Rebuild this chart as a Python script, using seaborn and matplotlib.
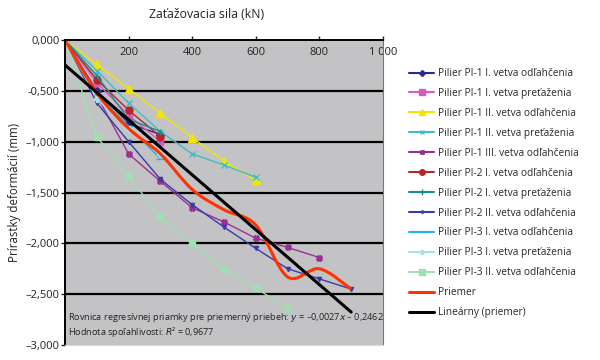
import numpy as np
import pandas as pd
import matplotlib
matplotlib.use("Agg")
import matplotlib.pyplot as plt
import seaborn as sns
from matplotlib.path import Path
from matplotlib.patches import PathPatch
from matplotlib.lines import Line2D

sns.set_theme(style="white")
plt.rcParams['font.family'] = ['Open Sans', 'DejaVu Sans']

# ---- data ----
load = [0, 100, 200, 300, 400, 500, 600, 700, 800, 900]

names = [
    "Pilier PI-1 I. vetva odľahčenia",
    "Pilier PI-1 I. vetva preťaženia",
    "Pilier PI-1 II. vetva odľahčenia",
    "Pilier PI-1 II. vetva preťaženia",
    "Pilier PI-1 III. vetva odľahčenia",
    "Pilier PI-2 I. vetva odľahčenia",
    "Pilier PI-2 I. vetva preťaženia",
    "Pilier PI-2 II. vetva odľahčenia",
    "Pilier PI-3 I. vetva odľahčenia",
    "Pilier PI-3 I. vetva preťaženia",
    "Pilier PI-3 II. vetva odľahčenia",
]

pi1_i_odl = [0, -0.50, -0.82, -0.93]
pi1_i_pre = [0, -0.42, -0.74, -1.00]
pi1_ii_odl = [0, -0.24, -0.48, -0.72, -0.96, -1.19, -1.38]
pi1_ii_pre = [0, -0.30, -0.62, -0.90, -1.12, -1.23, -1.35]
pi1_iii_odl = [0, -0.55, -1.12, -1.39, -1.65, -1.79, -1.95, -2.04, -2.14]
pi2_i_odl = [0, -0.39, -0.69, -0.95]
pi2_i_pre = [0, -0.35, -0.78, -0.90]
pi2_ii_odl = [0, -0.62, -1.00, -1.37, -1.62, -1.84, -2.05, -2.25, -2.35, -2.45]
pi3_i_odl = [0, -0.52, -0.85, -1.17]
pi3_i_pre = [0, -0.58, -0.88, -1.12]
pi3_ii_odl = [0, -0.95, -1.34, -1.74, -2.00, -2.25, -2.44, -2.64]

series = [pi1_i_odl, pi1_i_pre, pi1_ii_odl, pi1_ii_pre, pi1_iii_odl,
          pi2_i_odl, pi2_i_pre, pi2_ii_odl, pi3_i_odl, pi3_i_pre, pi3_ii_odl]

priemer = [0, -0.52, -0.87, -1.12, -1.47, -1.67, -1.82, -2.33, -2.25, -2.45]

slope = -0.0027
intercept = -0.2462
r2 = 0.9677

x_ticks = [200, 400, 600, 800, 1000]
x_tick_labels = ["200", "400", "600", "800", "1 000"]
y_ticks = [0, -0.5, -1.0, -1.5, -2.0, -2.5, -3.0]
y_tick_labels = ["0,000", "-0,500", "–1,000", "–1,500", "–2,000", "–2,500", "–3,000"]

# ---- styles ----
colors = ["#2a2a8c", "#d45cb8", "#f2e600", "#3cc0c4", "#9a3192",
          "#b3262a", "#1f8a8e", "#3a3aa8", "#1eb4e6", "#a6e2e2", "#9fe0b0"]
markers = ["D", "s", "^", "x", "X", "o", "+", "v", "_", "P", "s"]
msizes = [4, 5, 6, 4, 4, 5, 5, 3, 6, 4, 5]

fig = plt.figure(figsize=(6, 3.6), dpi=100)
ax = fig.add_axes([65/600, 1-345/360, (383-65)/600, (345-40)/360])
ax.set_facecolor("#c3c3c5")

for yv in [-0.5, -1.0, -1.5, -2.0, -2.5]:
    ax.axhline(yv, color="black", lw=1.6, zorder=1)

handles = []
for name, vals, c, m, ms in zip(names, series, colors, markers, msizes):
    df = pd.DataFrame({"x": load[:len(vals)], "y": vals})
    sns.lineplot(data=df, x="x", y="y", ax=ax, color=c, lw=1.0, marker=m,
                 markersize=ms, markeredgecolor=c, markeredgewidth=1.0,
                 sort=False, zorder=3, legend=False)
    handles.append(Line2D([], [], color=c, lw=1.5, marker=m, markersize=ms - 1,
                          markeredgecolor=c, label=name))

# smoothed average curve (Catmull-Rom -> cubic Bezier in data coords)
P = np.column_stack([load, priemer]).astype(float)
verts = [P[0]]
codes = [Path.MOVETO]
n = len(P)
for i in range(n - 1):
    p0 = P[i - 1] if i > 0 else P[i]
    p1 = P[i]
    p2 = P[i + 1]
    p3 = P[i + 2] if i + 2 < n else P[i + 1]
    c1 = p1 + (p2 - p0) / 6.0
    c2 = p2 - (p3 - p1) / 6.0
    verts += [c1, c2, p2]
    codes += [Path.CURVE4] * 3
ax.add_patch(PathPatch(Path(verts, codes), facecolor="none",
                       edgecolor="#ff3300", lw=2.2, zorder=4))
handles.append(Line2D([], [], color="#ff3300", lw=2.2, label="Priemer"))

# linear trend of the average
tx = np.array([load[0], load[-1]], dtype=float)
sns.lineplot(x=tx, y=slope * tx + intercept, ax=ax, color="black", lw=2.2,
             zorder=5, legend=False)
handles.append(Line2D([], [], color="black", lw=2.2, label="Lineárny (priemer)"))

ax.set_xlim(0, 1000)
ax.set_ylim(-3.0, 0)
ax.set_xticks(x_ticks)
ax.set_xticklabels(x_tick_labels)
ax.set_yticks(y_ticks)
ax.set_yticklabels(y_tick_labels)
ax.xaxis.tick_top()
ax.tick_params(axis="x", which="both", top=True, bottom=False, labeltop=True,
               labelbottom=False, direction="out", length=3, width=1,
               pad=-16, labelsize=8, colors="#222222")
ax.tick_params(axis="y", left=True, direction="out", length=3, width=1,
               labelsize=8, pad=1, colors="#222222")
ax.set_xlabel("")
ax.set_ylabel("")

for s in ["top", "left"]:
    ax.spines[s].set_color("black")
    ax.spines[s].set_linewidth(1.4)
ax.spines["right"].set_color("#777777")
ax.spines["right"].set_linewidth(0.8)
ax.spines["bottom"].set_color("#d8d8d8")
ax.spines["bottom"].set_linewidth(0.8)
for s in ax.spines.values():
    s.set_zorder(6)

ax.text(0.01, 1-(318-40)/305,
        "Rovnica regresívnej priamky pre priemerný priebeh: $\\it{y}$ = –0,0027$\\it{x}$ – 0,2462",
        transform=ax.transAxes, fontsize=6.6, color="#222222", va="center", zorder=7)
ax.text(0.01, 1-(332-40)/305,
        "Hodnota spoľahlivosti: $\\it{R}$² = 0,9677",
        transform=ax.transAxes, fontsize=6.6, color="#222222", va="center", zorder=7)

fig.text(207/600, 1-15/360, "Zaťažovacia sila (kN)", ha="center", va="center",
         fontsize=8.8, color="#222222")
fig.text(15/600, 1-192/360, "Prírastky deformácií (mm)", ha="center", va="center",
         rotation=90, fontsize=8.3, color="#222222")

fig.legend(handles=handles, loc="upper left", bbox_to_anchor=(405/600, 1-64/360),
           frameon=False, fontsize=7.3, handlelength=2.5, labelspacing=0.88,
           handletextpad=0.4, borderaxespad=0)

fig.savefig("out.png", dpi=100)
